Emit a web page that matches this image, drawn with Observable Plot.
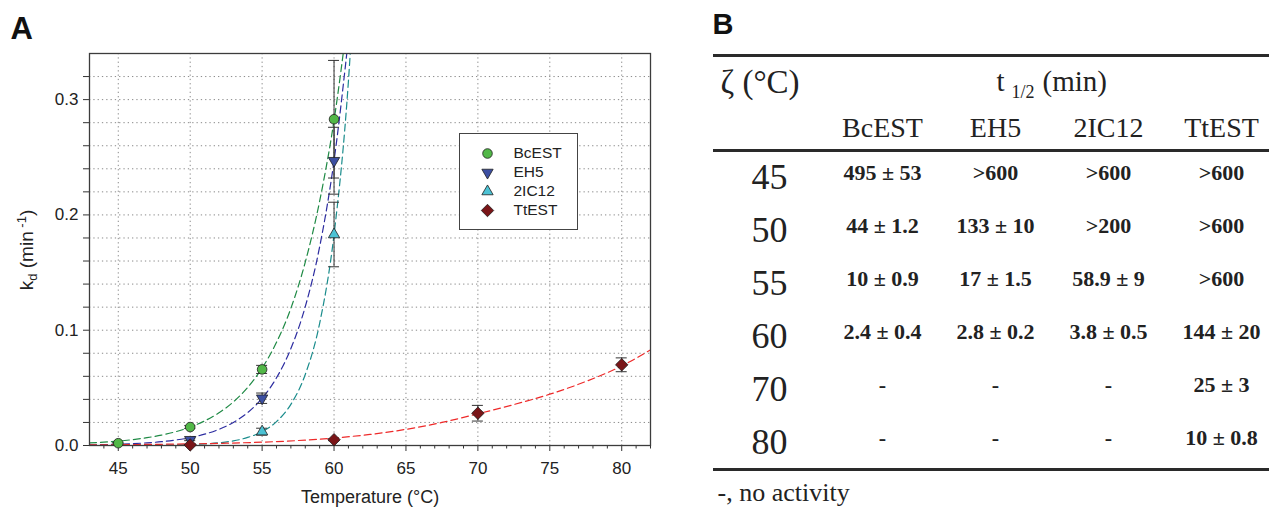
<!DOCTYPE html>
<html><head><meta charset="utf-8">
<script src="https://cdn.jsdelivr.net/npm/d3@7"></script>
<script src="https://cdn.jsdelivr.net/npm/@observablehq/plot@0.6"></script>
<style>
html,body{margin:0;padding:0;background:#fff;}
#wrap{position:relative;width:1269px;height:507px;overflow:hidden;background:#fff;}
#panelA{position:absolute;left:0;top:0;}
#panelB{position:absolute;left:700px;top:0;}
#legend{position:absolute;left:459px;top:133px;width:119px;height:97px;border:1px solid #444;box-sizing:border-box;background:#fff;}
</style></head>
<body><div id="wrap"><div id="panelA"></div><div id="legend"></div><div id="panelB"></div></div>
<script>
// ---------- Panel A data ----------
const seriesNames = ["BcEST", "EH5", "2IC12", "TtEST"];
const markerFills = ["#52b848", "#3c4fa2", "#4cc2d4", "#7a1518"];
const curveStrokes = ["#1f8a45", "#2c2ca0", "#1a8c8c", "#ee2a2a"];

const bcestT = [45, 50, 55, 60];
const bcestKd = [0.002, 0.016, 0.066, 0.283];
const bcestErr = [0.0006, 0.0012, 0.0035, 0.051];

const eh5T = [50, 55, 60];
const eh5Kd = [0.005, 0.041, 0.247];
const eh5Err = [0.0008, 0.0045, 0.029];

const ic12T = [55, 60];
const ic12Kd = [0.012, 0.183];
const ic12Err = [0.003, 0.028];

const ttestT = [50, 60, 70, 80];
const ttestKd = [0.0005, 0.005, 0.028, 0.070];
const ttestErr = [0.0003, 0.0008, 0.0068, 0.006];

// fitted curves
const fitT = [43, 44, 45, 46, 47, 48, 49, 50, 51, 52, 53, 54, 55, 56, 57, 58, 59, 60, 61];
const bcestFit = [0.0022, 0.0029, 0.0038, 0.0051, 0.0068, 0.0090, 0.0120, 0.0160, 0.0213, 0.0284, 0.0378, 0.0504, 0.0672, 0.0895, 0.119, 0.159, 0.212, 0.282, 0.376];
const eh5Fit = [0.00055, 0.0008, 0.0011, 0.0016, 0.0023, 0.0033, 0.0048, 0.0068, 0.0098, 0.0140, 0.0200, 0.0286, 0.0410, 0.0587, 0.0841, 0.1204, 0.1724, 0.247, 0.353];
const ic12FitT = [43, 44, 45, 46, 47, 48, 49, 50, 51, 52, 53, 54, 55, 56, 57, 58, 59, 60, 61, 62];
const ic12Fit = [0.00002, 0.00003, 0.00005, 0.00009, 0.00015, 0.00026, 0.00046, 0.00079, 0.00136, 0.00234, 0.0040, 0.0070, 0.0120, 0.0207, 0.0357, 0.0616, 0.106, 0.183, 0.316, 0.545];
const ttestFitT = [43, 45, 47.5, 50, 52.5, 55, 57.5, 60, 62.5, 65, 67.5, 70, 72.5, 75, 77.5, 80, 82];
const ttestFit = [0.0005, 0.0007, 0.0010, 0.0014, 0.0020, 0.0029, 0.0043, 0.0065, 0.0096, 0.0140, 0.0200, 0.0275, 0.0355, 0.0445, 0.0555, 0.0690, 0.0830];

const xMajorTicks = [45, 50, 55, 60, 65, 70, 75, 80];
const xMinorTicks = [44, 46, 47, 48, 49, 51, 52, 53, 54, 56, 57, 58, 59, 61, 62, 63, 64, 66, 67, 68, 69, 71, 72, 73, 74, 76, 77, 78, 79, 81, 82];
const yMajorTicks = [0, 0.1, 0.2, 0.3];
const yMinorTicks = [0.02, 0.04, 0.06, 0.08, 0.12, 0.14, 0.16, 0.18, 0.22, 0.24, 0.26, 0.28, 0.32];
const yGridTicks = [0.02, 0.04, 0.06, 0.08, 0.1, 0.12, 0.14, 0.16, 0.18, 0.2, 0.22, 0.24, 0.26, 0.28, 0.3, 0.32];

// ---------- Panel B data ----------
const tableTemps = ["45", "50", "55", "60", "70", "80"];
const tableCols = ["BcEST", "EH5", "2IC12", "TtEST"];
const halfBcEST = ["495 ± 53", "44 ± 1.2", "10 ± 0.9", "2.4 ± 0.4", "-", "-"];
const halfEH5 = [">600", "133 ± 10", "17 ± 1.5", "2.8 ± 0.2", "-", "-"];
const half2IC12 = [">600", ">200", "58.9 ± 9", "3.8 ± 0.5", "-", "-"];
const halfTtEST = [">600", ">600", ">600", "144 ± 20", "25 ± 3", "10 ± 0.8"];

// ---------- build tables ----------
const pointSets = [[bcestT, bcestKd, bcestErr], [eh5T, eh5Kd, eh5Err], [ic12T, ic12Kd, ic12Err], [ttestT, ttestKd, ttestErr]];
const pts = seriesNames.flatMap((s, i) => pointSets[i][0].map((T, j) => ({series: s, T, kd: pointSets[i][1][j], err: pointSets[i][2][j]})));
const curveSets = [[fitT, bcestFit], [fitT, eh5Fit], [ic12FitT, ic12Fit], [ttestFitT, ttestFit]];
const curves = seriesNames.map((s, i) => curveSets[i][0].map((T, j) => ({series: s, T, k: curveSets[i][1][j]})));

const triangleDown = {
  draw(context, size) {
    const y = -Math.sqrt(size / (Math.sqrt(3) * 3));
    context.moveTo(0, -y * 2);
    context.lineTo(-Math.sqrt(3) * y, y);
    context.lineTo(Math.sqrt(3) * y, y);
    context.closePath();
  }
};
const colorScale = {domain: seriesNames, range: markerFills};
const symbolScale = {domain: seriesNames, range: ["circle", triangleDown, "triangle", "diamond2"]};
const radii = [4.8, 4.2, 4.2, 5.6];
const sans = "'Liberation Sans', Arial, Helvetica, sans-serif";
const serif = "'Liberation Serif', 'Times New Roman', serif";

const plotA = Plot.plot({
  width: 700, height: 507,
  marginLeft: 89, marginRight: 50, marginTop: 53, marginBottom: 62,
  x: {domain: [43, 82]},
  y: {domain: [0, 0.34]},
  color: colorScale,
  symbol: symbolScale,
  style: {fontFamily: sans, fontSize: "17px", color: "#222", background: "white", overflow: "visible"},
  marks: [
    Plot.gridX(xMajorTicks, {stroke: "#8a8a8a", strokeOpacity: 1, strokeDasharray: "1.3,3"}),
    Plot.gridY(yGridTicks, {stroke: "#8a8a8a", strokeOpacity: 1, strokeDasharray: "1.3,3"}),
    Plot.axisX(xMinorTicks, {tickSize: 3.5, fill: "none", label: null, stroke: "#333"}),
    Plot.axisX(xMajorTicks, {tickSize: 6, tickPadding: 10, fontSize: 17, label: null, stroke: "#333", fill: "#222"}),
    Plot.axisY(yMinorTicks, {tickSize: 6, fill: "none", label: null, stroke: "#333"}),
    Plot.axisY(yMajorTicks, {tickSize: 6, tickPadding: 5, tickFormat: d3.format(".1f"), fontSize: 17, label: null, stroke: "#333", fill: "#222"}),
    ...curves.map((c, i) => Plot.line(c, {x: "T", y: "k", stroke: curveStrokes[i], strokeWidth: 1.2, strokeDasharray: "7,4", curve: "monotone-x", clip: true})),
    Plot.frame({stroke: "#3c3c3c", strokeWidth: 1.3}),
    Plot.ruleX(pts, {x: "T", y1: d => d.kd - d.err, y2: d => d.kd + d.err, stroke: "#333", strokeWidth: 1}),
    Plot.ruleY(pts, {y: d => d.kd + d.err, x1: "T", x2: "T", insetLeft: -5.5, insetRight: -5.5, stroke: "#333", strokeWidth: 1}),
    Plot.ruleY(pts, {y: d => d.kd - d.err, x1: "T", x2: "T", insetLeft: -5.5, insetRight: -5.5, stroke: "#333", strokeWidth: 1}),
    ...seriesNames.map((s, i) => Plot.dot(pts.filter(d => d.series === s), {x: "T", y: "kd", fill: "series", symbol: "series", r: radii[i], stroke: "#1e1e1e", strokeWidth: 0.8})),
    Plot.text(["Temperature (°C)"], {frameAnchor: "bottom", lineAnchor: "bottom", dy: 57, fontSize: 18, fill: "#222"}),
    Plot.text(["A"], {frameAnchor: "top-left", dx: -79, dy: -15, lineAnchor: "bottom", textAnchor: "start", fontSize: 31, fontWeight: "bold", fill: "#111"})
  ]
});
// y-axis title with subscript / superscript
{
  const lab = d3.select(plotA).append("text")
    .attr("transform", "translate(33,250) rotate(-90)")
    .attr("text-anchor", "middle").attr("font-size", 19).attr("fill", "#222")
    .attr("font-family", sans);
  lab.append("tspan").text("k");
  lab.append("tspan").attr("font-size", 13).attr("dy", 4).text("d");
  lab.append("tspan").attr("dy", -4).text(" (min");
  lab.append("tspan").attr("font-size", 13).attr("dy", -7).text(" -1");
  lab.append("tspan").attr("dy", 7).text(")");
}
document.getElementById("panelA").appendChild(plotA);

const legendPlot = Plot.plot({
  width: 117, height: 95, margin: 0,
  y: {type: "point", domain: seriesNames, range: [18, 77], padding: 0, axis: null},
  color: colorScale,
  symbol: symbolScale,
  style: {fontFamily: sans, fontSize: "15px", color: "#222", background: "white"},
  marks: [
    ...seriesNames.map((s, i) => Plot.dot([s], {y: d => d, frameAnchor: "left", dx: 27, fill: d => d, symbol: d => d, r: radii[i], stroke: "#1e1e1e", strokeWidth: 0.8})),
    Plot.text(seriesNames, {y: d => d, frameAnchor: "left", dx: 53, textAnchor: "start", fontSize: 15.5, fill: "#222"})
  ]
});
document.getElementById("legend").appendChild(legendPlot);

// ---------- Panel B ----------
const halfCols = [halfBcEST, halfEH5, half2IC12, halfTtEST];
const cells = tableCols.flatMap((c, j) => tableTemps.map((t, i) => ({col: c, temp: t, text: halfCols[j][i]})));
const colKeys = ["T", ...tableCols];

const plotB = Plot.plot({
  width: 569, height: 507, margin: 0,
  x: {type: "point", domain: colKeys, range: [68, 522], padding: 0, axis: null},
  y: {type: "point", domain: tableTemps, range: [177, 445], padding: 0, axis: null},
  style: {fontFamily: serif, color: "#222", background: "white", overflow: "visible"},
  marks: [
    Plot.ruleY([tableTemps[0]], {y: d => d, dy: -124, insetLeft: 13, stroke: "#2a2a2a", strokeWidth: 3}),
    Plot.ruleY([tableTemps[0]], {y: d => d, dy: -29, insetLeft: 13, stroke: "#2a2a2a", strokeWidth: 3}),
    Plot.ruleY([tableTemps[tableTemps.length - 1]], {y: d => d, dy: 25, insetLeft: 13, stroke: "#2a2a2a", strokeWidth: 3}),
    Plot.text(["B"], {frameAnchor: "top-left", dx: 12, dy: 33, lineAnchor: "bottom", textAnchor: "start", fontFamily: sans, fontWeight: "bold", fontSize: 29, fill: "#111"}),
    Plot.text(["ζ (°C)"], {frameAnchor: "top-left", dx: 20, dy: 92, lineAnchor: "bottom", textAnchor: "start", fontSize: 33}),
    Plot.text(["t"], {frameAnchor: "top-left", dx: 296, dy: 90, lineAnchor: "bottom", textAnchor: "start", fontSize: 29}),
    Plot.text(["1/2"], {frameAnchor: "top-left", dx: 311, dy: 97, lineAnchor: "bottom", textAnchor: "start", fontSize: 18}),
    Plot.text(["(min)"], {frameAnchor: "top-left", dx: 342, dy: 90, lineAnchor: "bottom", textAnchor: "start", fontSize: 29}),
    Plot.text(tableCols, {x: d => d, frameAnchor: "top", dy: 136, lineAnchor: "bottom", fontSize: 28}),
    Plot.text(tableTemps, {x: () => "T", y: d => d, dy: 9, lineAnchor: "bottom", fontSize: 36}),
    Plot.text(cells, {x: "col", y: "temp", text: "text", lineAnchor: "bottom", fontSize: 22, fontWeight: "bold"}),
    Plot.text(["-, no activity"], {frameAnchor: "top-left", dx: 17, dy: 500, lineAnchor: "bottom", textAnchor: "start", fontSize: 26})
  ]
});
document.getElementById("panelB").appendChild(plotB);
</script>
</body></html>
